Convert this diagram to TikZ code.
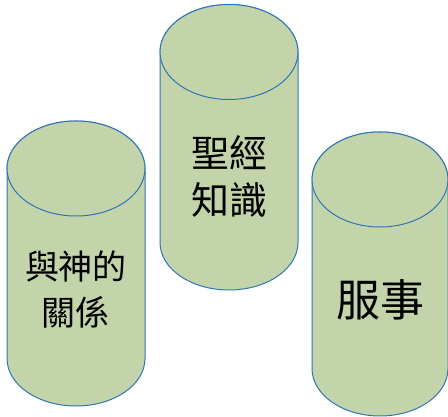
\documentclass[tikz,border=0pt]{standalone}
\usepackage{fontspec}
\newfontfamily\tcfont{Noto Sans CJK TC}
\definecolor{cylfill}{RGB}{196,212,170}
\definecolor{cylline}{RGB}{46,117,182}

\begin{document}
\begin{tikzpicture}[x=1pt,y=1pt,
    cyl/.style={draw=cylline, fill=cylfill, line width=1pt},
    lbl/.style={align=center, inner sep=0pt, text=black}]
    \useasboundingbox (0,0) rectangle (448,417);

    % left: relation with God
    \draw[cyl] (7,248.5) -- (7,58.5) arc[start angle=180,end angle=360,x radius=69,y radius=47.5]
        -- (145,248.5) arc[start angle=0,end angle=180,x radius=69,y radius=47.5] -- cycle;
    \draw[cyl] (76,248.5) ellipse[x radius=69,y radius=47.5];
    \node[lbl,font=\tcfont\fontsize{34}{46}\selectfont] (relation) at (76,127) {與神的\\關係};

    % middle: Bible knowledge
    \draw[cyl] (160,365) -- (160,174.5) arc[start angle=180,end angle=360,x radius=69,y radius=47.5]
        -- (298,365) arc[start angle=0,end angle=180,x radius=69,y radius=47.5] -- cycle;
    \draw[cyl] (229,365) ellipse[x radius=69,y radius=47.5];
    \node[lbl,font=\tcfont\fontsize{38}{47}\selectfont] (bible) at (229,240.5) {聖經\\知識};

    % right: service
    \draw[cyl] (312,237.5) -- (312,48.5) arc[start angle=180,end angle=360,x radius=68,y radius=47.5]
        -- (448,237.5) arc[start angle=0,end angle=180,x radius=68,y radius=47.5] -- cycle;
    \draw[cyl] (380,237.5) ellipse[x radius=68,y radius=47.5];
    \node[lbl,font=\tcfont\fontsize{44}{50}\selectfont] (service) at (380,117) {服事};
\end{tikzpicture}
\end{document}
